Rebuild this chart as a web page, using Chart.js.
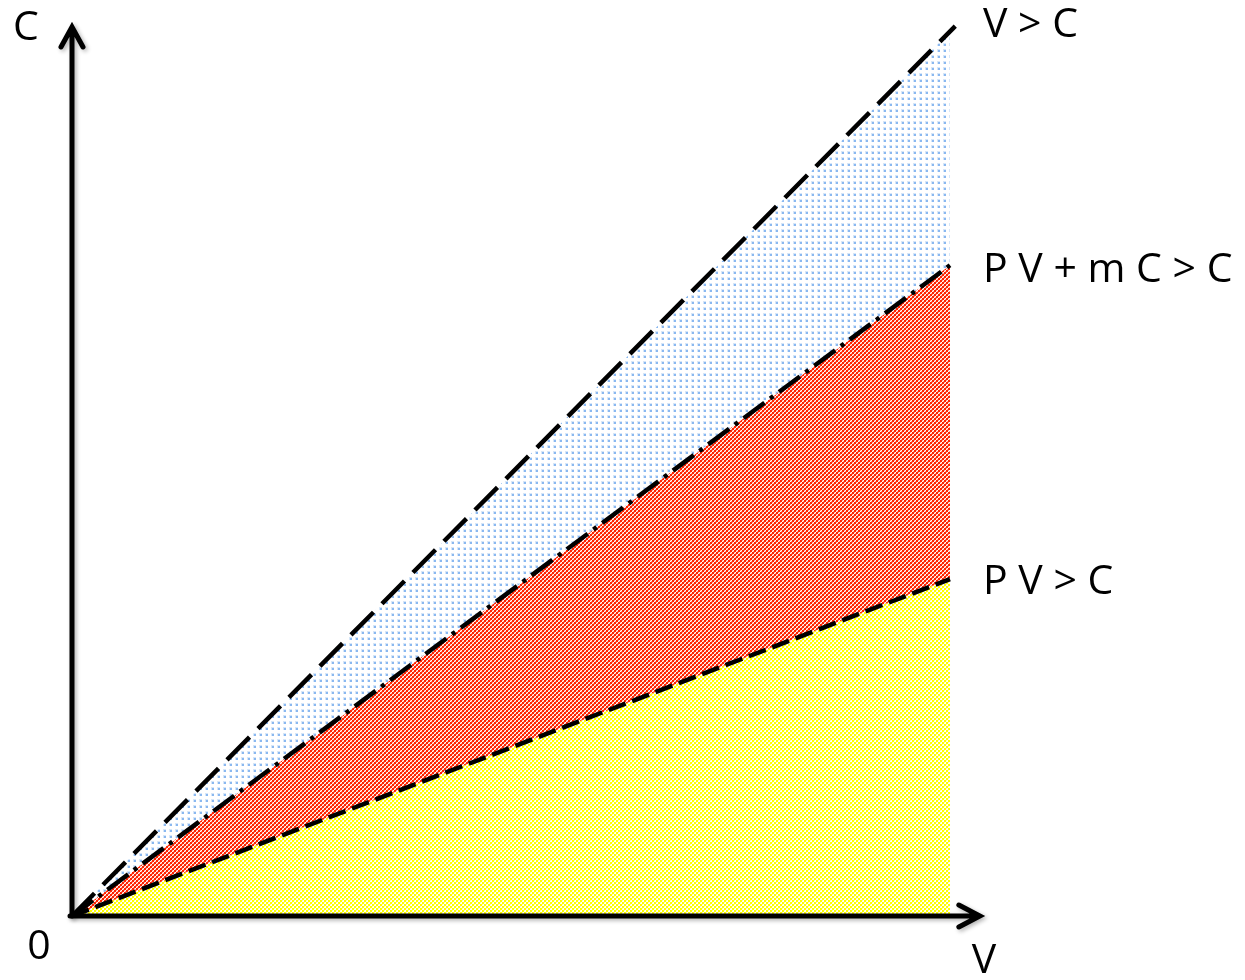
<!DOCTYPE html>
<html>
<head>
<meta charset="utf-8">
<script src="https://cdn.jsdelivr.net/npm/chart.js@4"></script>
<style>
  html, body { margin: 0; padding: 0; background: #fff; }
  #wrap { width: 1245px; height: 980px; }
</style>
</head>
<body>
<div id="wrap"><canvas id="regionChart" width="1245" height="980"></canvas></div>
<script>
// x positions of the two ends of every boundary line (V axis units)
const xEnds = [0, 100];
// boundary values (C axis units) at those x positions
const pvValues = [0, 37.9];     // P V > C
const pvmcValues = [0, 73.2];   // P V + m C > C
const vcValues = [0, 99.5];     // V > C
// the V > C line runs a little past the shaded block
const vcLineX = [0, 100.6];
const vcLineY = [0, 100.1];
const lineLabels = ['V > C', 'P V + m C > C', 'P V > C'];
const axisLabels = { x: 'V', y: 'C', origin: '0' };

function pts(xs, ys) {
  return xs.map((x, i) => ({ x: x, y: ys[i] }));
}

// small tiles used as pattern fills, drawn from a row map
function makePattern(rows, colours) {
  const c = document.createElement('canvas');
  c.width = rows[0].length; c.height = rows.length;
  const g = c.getContext('2d');
  rows.forEach((row, j) => {
    [...row].forEach((ch, i) => {
      g.fillStyle = colours[ch];
      g.fillRect(i, j, 1, 1);
    });
  });
  return document.getElementById('regionChart').getContext('2d').createPattern(c, 'repeat');
}

const bluePattern = makePattern(
  ['......', '.lll..', '.lDD..', '.lDD..', '......', '......'],
  { '.': '#ffffff', 'l': '#d6e6f8', 'D': '#8ab8f0' });
const redPattern = makePattern(
  ['RRpw', 'RRwp', 'pwRR', 'wpRR'],
  { 'R': '#ff2200', 'p': '#ff9a88', 'w': '#ffffff' });
const yellowPattern = makePattern(
  ['YYyw', 'YYww', 'ywYY', 'wwYY'],
  { 'Y': '#ffff00', 'y': '#ffffa8', 'w': '#ffffff' });

// axes with open arrow heads + the text labels
const decorPlugin = {
  id: 'decor',
  afterDatasetsDraw(chart) {
    const { ctx, scales: { x, y } } = chart;
    const ox = x.getPixelForValue(0);
    const oy = y.getPixelForValue(0);
    const yTop = y.getPixelForValue(100);
    const xEnd = x.getPixelForValue(103.4);

    ctx.save();
    ctx.strokeStyle = '#000';
    ctx.lineWidth = 5;
    ctx.lineCap = 'round';
    ctx.lineJoin = 'miter';
    ctx.shadowColor = 'rgba(0,0,0,0.3)';
    ctx.shadowBlur = 4;
    ctx.shadowOffsetX = 2;
    ctx.shadowOffsetY = 2;

    ctx.beginPath();
    ctx.moveTo(ox, oy);
    ctx.lineTo(ox, yTop + 2);
    ctx.moveTo(ox - 11, yTop + 20);
    ctx.lineTo(ox, yTop);
    ctx.lineTo(ox + 11, yTop + 20);
    ctx.stroke();

    ctx.beginPath();
    ctx.moveTo(ox - 2, oy);
    ctx.lineTo(xEnd - 2, oy);
    ctx.moveTo(xEnd - 21, oy - 11);
    ctx.lineTo(xEnd, oy);
    ctx.lineTo(xEnd - 21, oy + 11);
    ctx.stroke();
    ctx.restore();

    ctx.save();
    ctx.fillStyle = '#000';
    ctx.font = '41px "Open Sans"';
    ctx.textBaseline = 'middle';
    ctx.textAlign = 'left';
    const lx = x.getPixelForValue(100) + 33;
    ctx.fillText(lineLabels[0], lx, y.getPixelForValue(vcLineY[1]) - 1);
    ctx.fillText(lineLabels[1], lx, y.getPixelForValue(pvmcValues[1]) + 5);
    ctx.fillText(lineLabels[2], lx, y.getPixelForValue(pvValues[1]) + 3);
    ctx.textAlign = 'center';
    ctx.fillText(axisLabels.y, 26, 28);
    ctx.fillText(axisLabels.origin, 39, 947);
    ctx.fillText(axisLabels.x, 984, 961);
    ctx.restore();
  }
};

const lineStyle = { fill: false, borderColor: '#000', borderWidth: 4.5, borderCapStyle: 'butt',
  pointRadius: 0, tension: 0, order: 0, clip: false };

const ctx = document.getElementById('regionChart').getContext('2d');
const regionChart = new Chart(ctx, {
  type: 'line',
  data: {
    datasets: [
      // shaded bands
      { data: pts(xEnds, vcValues), fill: '+1', backgroundColor: bluePattern, borderWidth: 0, pointRadius: 0, tension: 0, order: 2 },
      { data: pts(xEnds, pvmcValues), fill: '+1', backgroundColor: redPattern, borderWidth: 0, pointRadius: 0, tension: 0, order: 2 },
      { data: pts(xEnds, pvValues), fill: 'origin', backgroundColor: yellowPattern, borderWidth: 0, pointRadius: 0, tension: 0, order: 2 },
      // boundary lines
      Object.assign({ label: lineLabels[0], data: pts(vcLineX, vcLineY), borderDash: [32, 12] }, lineStyle),
      Object.assign({ label: lineLabels[1], data: pts(xEnds, pvmcValues), borderDash: [26, 7, 4, 7] }, lineStyle),
      Object.assign({ label: lineLabels[2], data: pts(xEnds, pvValues), borderDash: [18, 7] }, lineStyle)
    ]
  },
  options: {
    responsive: false,
    animation: false,
    layout: { padding: { left: 72, right: 295, top: 27, bottom: 64 } },
    scales: {
      x: { type: 'linear', min: 0, max: 100, display: false },
      y: { type: 'linear', min: 0, max: 100, display: false }
    },
    plugins: {
      legend: { display: false },
      tooltip: { enabled: false }
    }
  },
  plugins: [decorPlugin]
});
</script>
</body>
</html>
